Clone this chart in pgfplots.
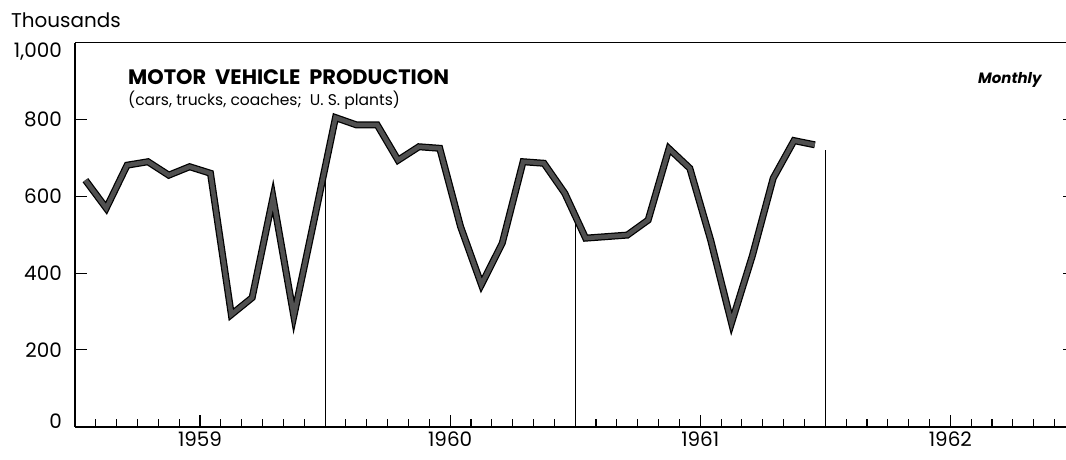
\documentclass[border=0pt]{standalone}
\usepackage{fontspec}
\setmainfont{Poppins}
\usepackage{pgfplots}
\usepackage{pgfplotstable}
\pgfplotsset{compat=1.18}

\pgfplotstableread{
m v
0.5 642
1.5 569
2.5 681
3.5 690
4.5 655
5.5 677
6.5 660
7.5 292
8.5 336
9.5 597
10.5 288
11.5 545
12.5 805
13.5 786
14.5 786
15.5 694
16.5 729
17.5 725
18.5 521
19.5 370
20.5 478
21.5 690
22.5 686
23.5 608
24.5 491
25.5 495
26.5 499
27.5 538
28.5 724
29.5 673
30.5 486
31.5 270
32.5 445
33.5 647
34.5 745
35.5 734
}\prodtable

\definecolor{strokegray}{HTML}{505050}

\begin{document}
\begin{tikzpicture}
\begin{axis}[
  at={(0,0)}, anchor=south west,
  scale only axis, width=991bp, height=384bp,
  xmin=0, xmax=47.55, ymin=0, ymax=1000,
  axis x line*=bottom, axis y line*=left,
  axis line style={-, line width=1.1bp, black},
  x axis line style={line width=1.8bp},
  tick align=inside,
  xtick={6,18,30,42},
  xticklabels={1959,1960,1961,1962},
  minor xtick={1,2,3,4,5,7,8,9,10,11,13,14,15,16,17,19,20,21,22,23,25,26,27,28,29,31,32,33,34,35,37,38,39,40,41,43,44,45,46,47},
  major tick length=12bp, minor tick length=8bp,
  tick style={black, line width=1.1bp},
  ytick={200,400,600,800},
  /pgf/number format/assume math mode=true,
  yticklabel style={font=\fontsize{20}{22}\selectfont, inner sep=0pt, anchor=east, xshift=-13bp},
  xticklabel style={font=\fontsize{20}{22}\selectfont, inner sep=0pt, anchor=north, yshift=-5.3bp},
  clip=false,
]
\addplot[black, line width=0.8bp] coordinates {(12,0) (12,675)};
\addplot[black, line width=0.8bp] coordinates {(24,0) (24,550)};
\addplot[black, line width=0.8bp] coordinates {(36,0) (36,720)};
\addplot[black, line width=7bp, line join=miter, mark=none] table[x=m, y=v] {\prodtable};
\addplot[strokegray, line width=4.5bp, line join=miter, mark=none] table[x=m, y=v] {\prodtable};
\draw[black, line width=1.1bp] (rel axis cs:0,1) -- (rel axis cs:1,1);
\pgfplotsinvokeforeach{200,400,600,800}{
  \draw[black, line width=1bp] (axis cs:47.55,#1) -- ++(-3bp,0);
}
\end{axis}
\node[anchor=base west, inner sep=0pt, font=\fontsize{20}{22}\selectfont] at (-64bp,398.7bp) {Thousands};
\node[anchor=base east, inner sep=0pt, font=\fontsize{20}{22}\selectfont] at (-13bp,369.4bp) {1,000};
\node[anchor=base east, inner sep=0pt, font=\fontsize{20}{22}\selectfont] at (-13bp,-1.6bp) {0};
\node[anchor=base west, inner sep=0pt, font=\fontsize{21}{23}\selectfont\bfseries] at (53bp,342.4bp) {MOTOR\ \ VEHICLE\ \ PRODUCTION};
\node[anchor=base west, inner sep=0pt, font=\fontsize{15.6}{17}\selectfont] at (53bp,320.7bp) {(cars, trucks, coaches;\ \ U. S. plants)};
\node[anchor=base east, inner sep=0pt, font=\fontsize{15}{17}\selectfont\bfseries\itshape] at (966.7bp,343.4bp) {Monthly};
\pgfresetboundingbox
\useasboundingbox (-75bp,-33.3bp) rectangle (991bp,426.7bp);
\end{tikzpicture}
\end{document}
